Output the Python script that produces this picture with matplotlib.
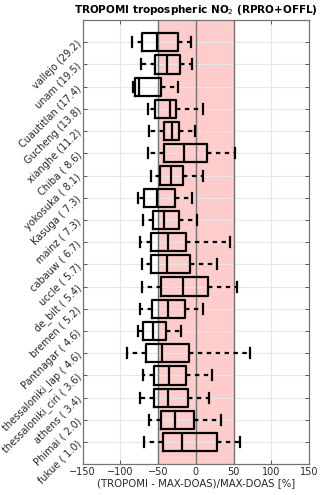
import numpy as np
import matplotlib
matplotlib.use('Agg')
import matplotlib.pyplot as plt
from matplotlib import rcParams

rcParams['font.family'] = 'DejaVu Sans'
rcParams['xtick.direction'] = 'in'
rcParams['ytick.direction'] = 'in'
rcParams['xtick.labelsize'] = 7
rcParams['ytick.labelsize'] = 7

# stations, top to bottom, with the value shown in brackets
stations = ['vallejo', 'unam', 'Cuautitlan', 'Gucheng', 'xianghe', 'Chiba',
            'yokosuka', 'Kasuga', 'mainz', 'cabauw', 'uccle', 'de_bilt',
            'bremen', 'Pantnagar', 'thessaloniki_lap', 'thessaloniki_ciri',
            'athens', 'Phimai', 'fukue']
bracket = [29.2, 19.5, 17.4, 13.8, 11.2, 8.6, 8.1, 7.3, 7.3, 6.7, 5.7, 5.4,
           5.2, 4.6, 4.6, 3.6, 3.4, 2.0, 1.0]

# box statistics [%]
whislo = [-85, -73, -83, -63, -62, -63, -60, -77, -70, -74, -71, -71,
          -73.5, -76.5, -91, -70.5, -74, -62, -69]
q1 = [-71, -53.5, -81, -53.5, -42, -42.5, -47, -68.5, -56.5, -59, -60, -46.5,
      -57.5, -70, -66.5, -55.5, -56, -45.5, -44]
med = [-51, -38, -75.5, -34.5, -32, -15.5, -33, -51.5, -42, -37, -38, -17.5,
       -37.5, -56.5, -44.5, -35.5, -37, -27, -18.5]
q3 = [-23, -21, -45.5, -26, -22.5, 15, -16.5, -27, -22, -13.5, -8, 15.5,
      -14.5, -40, -9, -12.5, -11, -2.5, 28.5]
whishi = [-6.5, -4.5, -23, 9, -0.5, 52, 9, -5, 2, 45, 27.5, 54,
          9.5, -19, 72, 22, 17, 33, 58.5]

labels = ['{} ({:4.1f})'.format(s, b) for s, b in zip(stations, bracket)]
n = len(stations)
pos = np.arange(n, 0, -1)

stats = []
for i in range(n):
    stats.append({'whislo': whislo[i], 'q1': q1[i], 'med': med[i],
                  'q3': q3[i], 'whishi': whishi[i], 'fliers': []})

fig = plt.figure(figsize=(3.2, 4.95), dpi=100)
ax = fig.add_axes([0.258, 0.062, 0.708, 0.8976])

# agreement band and reference lines
ax.axvspan(-50, 50, color=(1, 0.8, 0.8), zorder=0, lw=0)
for xv in [-50, 0, 50]:
    ax.axvline(xv, color='0.45', lw=1.0, zorder=1)

lw = 1.6
ax.bxp(stats, positions=pos, orientation='horizontal', widths=0.82,
       capwidths=0.45, showfliers=False, manage_ticks=False,
       boxprops=dict(color='k', lw=lw),
       medianprops=dict(color='k', lw=lw),
       whiskerprops=dict(color='k', lw=lw, linestyle=(0, (2, 2))),
       capprops=dict(color='k', lw=lw), zorder=3)

ax.set_xlim(-150, 150)
ax.set_ylim(0, n + 1)
ax.set_xticks([-150, -100, -50, 0, 50, 100, 150])
ax.set_yticks(pos)
ax.set_yticklabels(labels, rotation=45, ha='right', va='center',
                   rotation_mode='anchor')
ax.grid(True, color='0.9', lw=0.8, zorder=-1)
ax.set_axisbelow(True)
ax.tick_params(which='both', top=True, right=True, length=3, width=0.7,
               colors='0.35', labelcolor='0.15', pad=2)
for sp in ax.spines.values():
    sp.set_color('0.45')
    sp.set_linewidth(0.9)

ax.set_xlabel('(TROPOMI - MAX-DOAS)/MAX-DOAS [%]', fontsize=7.3, color='0.15',
              labelpad=1)
ax.set_title('TROPOMI tropospheric NO$_2$ (RPRO+OFFL)', fontsize=7.5,
             fontweight='bold', pad=5)

fig.savefig('out.png', dpi=100)
